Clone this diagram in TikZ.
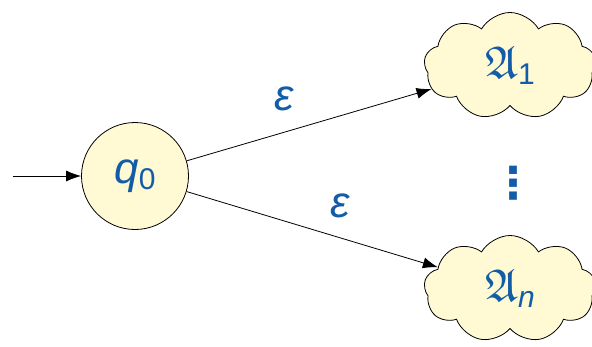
\documentclass[tikz,border=0pt]{standalone}
\usepackage{fontspec}
\setmainfont{Liberation Sans}
\newfontfamily\dejavu{DejaVu Sans}
\usepackage{amssymb}
\usepackage{graphicx}
\usetikzlibrary{shapes.symbols,arrows.meta}
\definecolor{txtblue}{RGB}{18,92,168}
\definecolor{paleyellow}{RGB}{255,249,212}
\newcommand{\frakA}{\scalebox{4.6}{\fontsize{10}{12}\selectfont$\mathfrak{A}$}}
\newcommand{\subtxt}[1]{\raisebox{-6pt}{\fontsize{30}{32}\selectfont #1}}
\begin{document}
\begin{tikzpicture}[x=1pt,y=-1pt,
  every node/.style={text=txtblue, font=\fontsize{44}{50}\selectfont},
  state/.style={circle,draw=black,fill=paleyellow,line width=0.8pt,minimum size=107pt,inner sep=0pt},
  blob/.style={cloud,cloud puffs=9,cloud puff arc=120,aspect=1.35,draw=black,fill=paleyellow,line width=0.8pt,minimum width=172pt,minimum height=107pt,inner sep=0pt},
  trans/.style={line width=0.8pt,-{Latex[length=15pt,width=11pt]}},
  lbl/.style={inner sep=0pt}]
\useasboundingbox (0,0) rectangle (592,346);
\node[state] (q0) at (135,176) {{\itshape q}\subtxt{0}};
\node[blob] (c1) at (510,66) {\frakA\subtxt{1}};
\node[blob] (cn) at (510,289) {\frakA\subtxt{\itshape n}};
\node[lbl] (dots) at (513,183) {{\dejavu\bfseries ⋮}};
\coordinate (start) at (13,176);
\draw[trans] (start) -- (q0);
\draw[trans] (q0) -- (c1) node[lbl,pos=0.4,yshift=33pt] (e1) {\itshape ε};
\draw[trans] (q0) -- (cn) node[lbl,pos=0.61,yshift=32pt] (e2) {\itshape ε};
\end{tikzpicture}
\end{document}
